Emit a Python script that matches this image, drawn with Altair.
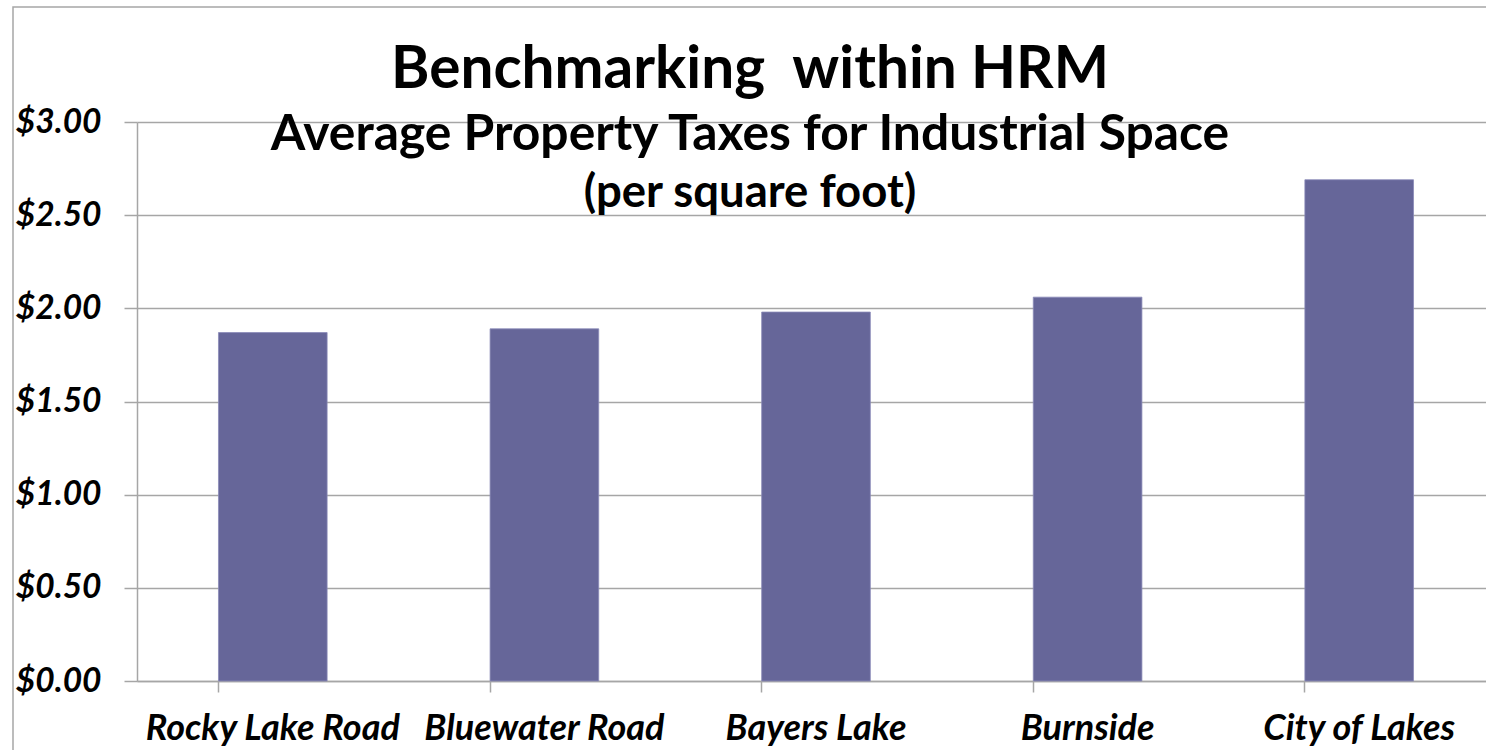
import altair as alt
import pandas as pd

categories = ["Rocky Lake Road", "Bluewater Road", "Bayers Lake", "Burnside", "City of Lakes"]
values = [1.87, 1.89, 1.98, 2.06, 2.69]
y_ticks = [0, 0.5, 1.0, 1.5, 2.0, 2.5, 3.0]
title_lines = ["Benchmarking\u00a0 within HRM", "Average Property Taxes for Industrial Space", "(per square foot)"]

df = pd.DataFrame({"Area": categories, "Tax": values})

FONT = "Lato"
GRAY = "#a6a6a6"
W, H = 1349, 559

bars = alt.Chart(df).mark_bar(color="#666699", stroke="#8a8ab8", strokeWidth=0.8).encode(
    x=alt.X("Area:N", sort=categories,
            scale=alt.Scale(range=[0, 1358], paddingInner=0.6, paddingOuter=0.3),
            axis=alt.Axis(title=None, labelAngle=0, bandPosition=0,
                          labelFont=FONT, labelFontSize=36, labelFontWeight="bold",
                          labelFontStyle="italic", labelColor="#000000", labelPadding=19,
                          labelLimit=0,
                          domainColor=GRAY, domainWidth=1.5, tickColor=GRAY, tickSize=11,
                          tickWidth=1.5, grid=False, labelOverlap=False)),
    y=alt.Y("Tax:Q", scale=alt.Scale(domain=[0, 3], nice=False),
            axis=alt.Axis(title=None, values=y_ticks, format="$.2f",
                          labelFont=FONT, labelFontSize=33.5, labelFontWeight="bold",
                          labelFontStyle="italic", labelColor="#000000", labelPadding=23,
                          domainColor=GRAY, domainWidth=1.5, tickColor=GRAY, tickSize=13,
                          tickWidth=1.5, grid=True, gridColor=GRAY, gridWidth=1.5)),
)

frame = alt.Chart(alt.Data(values=[{"a": 1}])).mark_rect(
    fill=None, stroke=GRAY, strokeWidth=1.5
).encode(x=alt.value(-124), y=alt.value(-115), x2=alt.value(1400), y2=alt.value(700))

def line(txt, size, ybase):
    return alt.Chart(pd.DataFrame({"t": [txt]})).mark_text(
        font=FONT, fontSize=size, fontWeight="bold", color="#000000",
        align="center", baseline="alphabetic"
    ).encode(text="t:N", x=alt.value(613), y=alt.value(ybase - 122))

chart = alt.layer(
    frame,
    bars,
    line(title_lines[0], 58.5, 88),
    line(title_lines[1], 49.8, 150),
    line(title_lines[2], 45.5, 207),
).properties(
    width=W, height=H,
    autosize=alt.AutoSizeParams(type="none"),
    padding={"left": 137, "top": 122, "right": 0, "bottom": 69},
).configure_view(strokeWidth=0)

chart.save("out.html", embed_options={"renderer": "svg", "actions": False})
